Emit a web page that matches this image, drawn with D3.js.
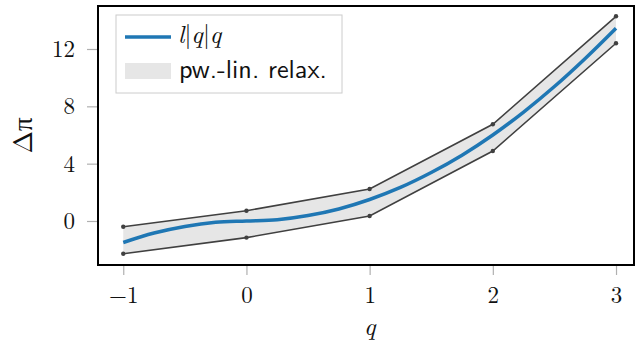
<!DOCTYPE html>
<html>
<head>
<meta charset="utf-8">
<script src="https://cdn.jsdelivr.net/npm/d3@7"></script>
<style>
  body { margin: 0; background: #fff; }
  svg { display: block; }
</style>
</head>
<body>
<svg id="chart" width="635" height="346"></svg>
<script>
// breakpoints of the piecewise-linear relaxation
var qBreaks = [-1, 0, 1, 2, 3];
var upper = [-0.4, 0.72, 2.23, 6.75, 14.28];
var lower = [-2.28, -1.16, 0.35, 4.88, 12.4];

// the smooth curve
var qCurve = [-1, -0.75, -0.5, -0.25, 0, 0.25, 0.5, 0.75, 1, 1.25, 1.5, 1.75, 2, 2.25, 2.5, 2.75, 3];
var lCurve = [-1.5, -0.84, -0.38, -0.09, 0, 0.09, 0.38, 0.84, 1.5, 2.34, 3.38, 4.59, 6, 7.6, 9.38, 11.34, 13.45];

var xTicks = [-1, 0, 1, 2, 3];
var yTicks = [0, 4, 8, 12];

var svg = d3.select("#chart"),
    margin = {top: 6, right: 1, bottom: 81, left: 98},
    width = +svg.attr("width") - margin.left - margin.right,
    height = +svg.attr("height") - margin.top - margin.bottom,
    g = svg.append("g").attr("transform", "translate(" + margin.left + "," + margin.top + ")");

var x = d3.scaleLinear().domain([-1.205, 3.146]).range([0, width]);
var y = d3.scaleLinear().domain([-3.07, 15.0]).range([height, 0]);

var serif = "Latin Modern Roman";
var sans = "Latin Modern Sans";

// band
var band = qBreaks.map(function(q, i) { return {q: q, lo: lower[i], hi: upper[i]}; });
g.append("path")
    .datum(band)
    .attr("fill", "#e6e6e6")
    .attr("d", d3.area()
      .x(function(d) { return x(d.q); })
      .y0(function(d) { return y(d.lo); })
      .y1(function(d) { return y(d.hi); }));

[upper, lower].forEach(function(arr) {
  var pts = qBreaks.map(function(q, i) { return [q, arr[i]]; });
  g.append("path")
      .datum(pts)
      .attr("fill", "none")
      .attr("stroke", "#404040")
      .attr("stroke-width", 1.6)
      .attr("d", d3.line()
        .x(function(d) { return x(d[0]); })
        .y(function(d) { return y(d[1]); }));
  g.selectAll(null)
      .data(pts)
    .enter().append("circle")
      .attr("cx", function(d) { return x(d[0]); })
      .attr("cy", function(d) { return y(d[1]); })
      .attr("r", 2.2)
      .attr("fill", "#404040");
});

// curve
var curvePts = qCurve.map(function(q, i) { return [q, lCurve[i]]; });
g.append("path")
    .datum(curvePts)
    .attr("fill", "none")
    .attr("stroke", "#1f77b4")
    .attr("stroke-width", 3.5)
    .attr("d", d3.line()
      .curve(d3.curveCatmullRom)
      .x(function(d) { return x(d[0]); })
      .y(function(d) { return y(d[1]); }));

// axes
var xAxis = g.append("g")
    .attr("transform", "translate(0," + height + ")")
    .call(d3.axisBottom(x).tickValues(xTicks).tickSize(10).tickPadding(12)
      .tickFormat(function(d) { return d < 0 ? "\u2212" + Math.abs(d) : d; }));
var yAxis = g.append("g")
    .call(d3.axisLeft(y).tickValues(yTicks).tickSize(11).tickPadding(12));
[xAxis, yAxis].forEach(function(a) {
  a.attr("font-family", serif).attr("font-size", 23);
  a.select(".domain").remove();
  a.selectAll(".tick line").attr("stroke", "#b0b0b0").attr("stroke-width", 1.2);
  a.selectAll(".tick text")
      .attr("fill", "#111")
      .attr("font-family", serif)
      .attr("font-size", 23);
});

// frame
g.append("rect")
    .attr("width", width)
    .attr("height", height)
    .attr("fill", "none")
    .attr("stroke", "#000")
    .attr("stroke-width", 2);

// axis labels
svg.append("text")
    .attr("transform", "translate(32," + 135.5 + ") rotate(-90)")
    .attr("text-anchor", "middle")
    .attr("font-family", serif)
    .attr("font-size", 27)
    .attr("fill", "#111")
    .text("\u0394\u03c0");
svg.append("text")
    .attr("x", margin.left + x(1))
    .attr("y", 335)
    .attr("text-anchor", "middle")
    .attr("font-family", serif)
    .attr("font-style", "italic")
    .attr("font-size", 25)
    .attr("fill", "#111")
    .text("q");

// legend
var lg = svg.append("g").attr("transform", "translate(116,15)");
lg.append("rect")
    .attr("width", 226)
    .attr("height", 78)
    .attr("fill", "#fff")
    .attr("stroke", "#cccccc")
    .attr("stroke-width", 1);
lg.append("line")
    .attr("x1", 9).attr("x2", 55)
    .attr("y1", 22).attr("y2", 22)
    .attr("stroke", "#1f77b4")
    .attr("stroke-width", 3.5);
var lab = lg.append("text")
    .attr("x", 62).attr("y", 28)
    .attr("font-family", serif)
    .attr("font-size", 25)
    .attr("fill", "#111");
[["l", true], ["|", false], ["q", true], ["|", false], ["q", true]].forEach(function(p) {
  lab.append("tspan").attr("font-style", p[1] ? "italic" : "normal").text(p[0]);
});
lg.append("rect")
    .attr("x", 9).attr("y", 48)
    .attr("width", 46).attr("height", 16)
    .attr("fill", "#e6e6e6");
var pw = lg.append("text")
    .attr("x", 63).attr("y", 63)
    .attr("font-family", sans)
    .attr("font-size", 21)
    .attr("fill", "#111")
    .text("pw.-lin. relax.");
// fit the legend label to the width it takes in the reference
var w = pw.node().getComputedTextLength();
if (w > 0) pw.attr("font-size", 21 * 148 / w);
</script>
</body>
</html>
